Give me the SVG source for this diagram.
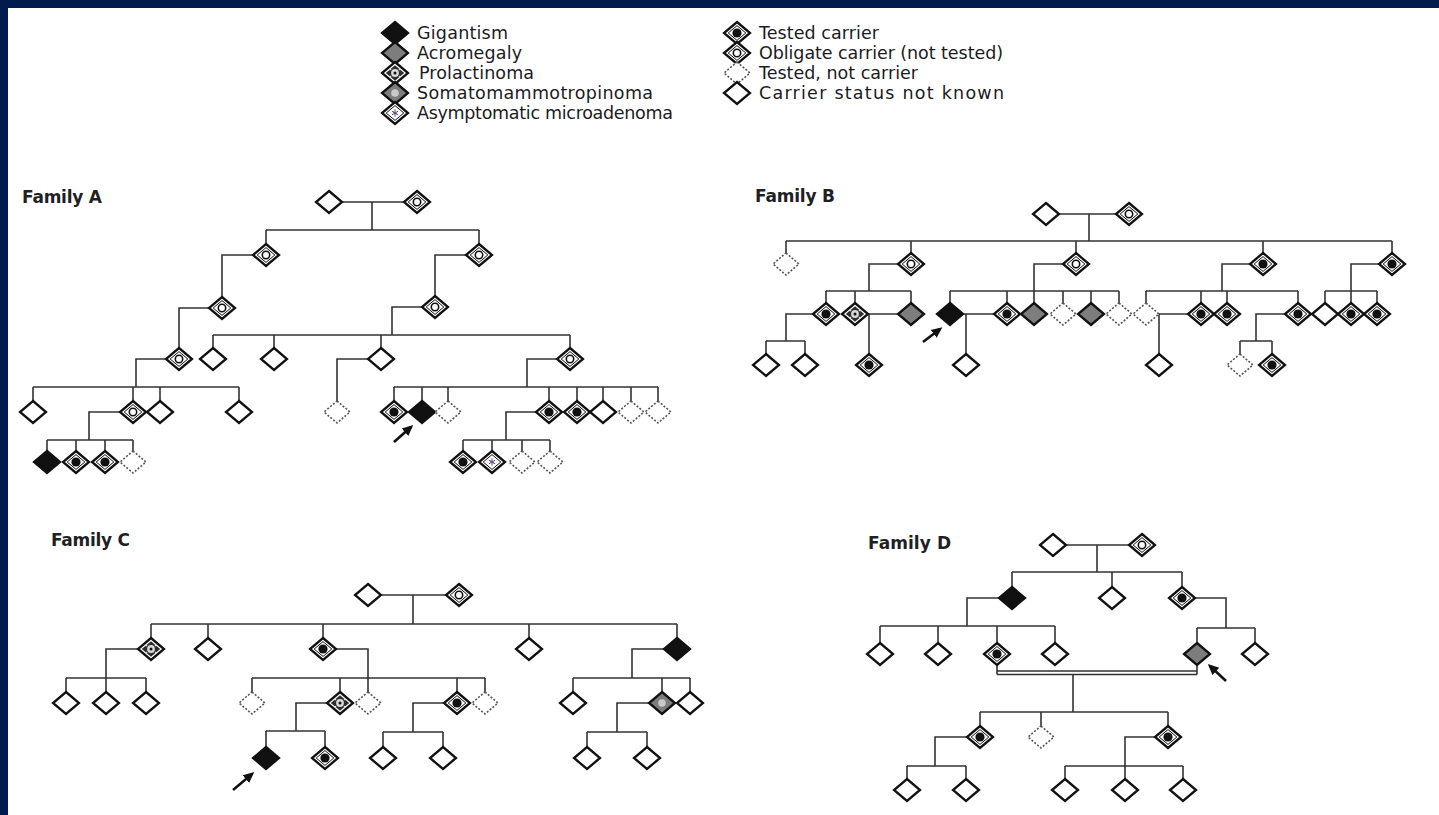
<svg xmlns="http://www.w3.org/2000/svg" width="1439" height="815" viewBox="0 0 1439 815">
<style>
.o{fill:#fff;stroke:#111;stroke-width:2.3}
.f{fill:#111;stroke:#111;stroke-width:2.3}
.g{fill:#7d7d7d;stroke:#111;stroke-width:2.3}
.in{fill:none;stroke:#111;stroke-width:1}
.nc{fill:#fff;stroke:#555;stroke-width:1.6;stroke-dasharray:2 1.7}
.ln{fill:none;stroke:#333;stroke-width:1.6}
.ar{fill:none;stroke:#111;stroke-width:2.6}
.lg{font-family:"DejaVu Sans","Liberation Sans",sans-serif;font-size:17.5px;fill:#1b1b24}
.fam{font-family:"DejaVu Sans","Liberation Sans",sans-serif;font-size:17px;font-weight:bold;fill:#1f1f26}
</style>
<defs>
<g id="unk"><path class="o" d="M0,-11L13,0L0,11L-13,0Z"/></g>
<g id="gig"><path class="f" d="M0,-11L13,0L0,11L-13,0Z"/></g>
<g id="acro"><path class="g" d="M0,-11L13,0L0,11L-13,0Z"/></g>
<g id="nc"><path class="nc" d="M0,-11L13,0L0,11L-13,0Z"/></g>
<g id="tc"><path class="o" d="M0,-11L13,0L0,11L-13,0Z"/><path class="in" d="M0,-7.4L8.8,0L0,7.4L-8.8,0Z"/><circle r="4.6" fill="#111"/></g>
<g id="oc"><path class="o" d="M0,-11L13,0L0,11L-13,0Z"/><path class="in" d="M0,-7.4L8.8,0L0,7.4L-8.8,0Z"/><circle r="3.7" fill="#fff" stroke="#111" stroke-width="1.6"/></g>
<g id="prl"><path class="o" d="M0,-11L13,0L0,11L-13,0Z"/><path d="M0,-7.8L9.2,0L0,7.8L-9.2,0Z" fill="#2e2e2e"/><circle r="3.9" fill="#d8d8d8"/><circle r="1.5" fill="#111"/><circle cx="-4.6" cy="-3.6" r="0.9" fill="#ddd"/><circle cx="4.6" cy="-3.6" r="0.9" fill="#ddd"/><circle cx="-4.6" cy="3.6" r="0.9" fill="#ddd"/><circle cx="4.6" cy="3.6" r="0.9" fill="#ddd"/></g>
<g id="som"><path class="g" d="M0,-11L13,0L0,11L-13,0Z"/><circle r="3.8" fill="#c9c9c9"/></g>
<g id="asy"><path class="o" d="M0,-11L13,0L0,11L-13,0Z"/><path class="in" d="M0,-7.4L8.8,0L0,7.4L-8.8,0Z"/><path d="M0,-3.6V3.6M-3.1,-1.8L3.1,1.8M-3.1,1.8L3.1,-1.8" stroke="#2c4fa8" stroke-width="1"/><path d="M-3.1,-1.8L3.1,1.8" stroke="#c0392b" stroke-width="0.9"/></g>
<marker id="ah" markerWidth="12" markerHeight="12" refX="8" refY="6" orient="auto" markerUnits="userSpaceOnUse"><path d="M0,1L11,6L0,11Z" fill="#111"/></marker>
</defs>
<rect width="1439" height="815" fill="#021b4f"/>
<rect x="8" y="8" width="1431" height="807" fill="#fff"/>

<g id="legend">
<g id="lg-gig"><use href="#gig" x="395" y="33"/><text class="lg" x="417" y="39" textLength="91">Gigantism</text></g>
<g id="lg-acro"><use href="#acro" x="395" y="53"/><text class="lg" x="417" y="59" textLength="105">Acromegaly</text></g>
<g id="lg-prl"><use href="#prl" x="395" y="73"/><text class="lg" x="419" y="79" textLength="115">Prolactinoma</text></g>
<g id="lg-som"><use href="#som" x="395" y="93"/><text class="lg" x="417" y="99" textLength="236">Somatomammotropinoma</text></g>
<g id="lg-asy"><use href="#asy" x="395" y="113"/><text class="lg" x="417" y="119" textLength="256">Asymptomatic microadenoma</text></g>
<g id="lg-tc"><use href="#tc" x="737" y="33"/><text class="lg" x="759" y="39" textLength="120">Tested carrier</text></g>
<g id="lg-oc"><use href="#oc" x="737" y="53"/><text class="lg" x="759" y="59" textLength="244">Obligate carrier (not tested)</text></g>
<g id="lg-nc"><use href="#nc" x="737" y="73"/><text class="lg" x="759" y="79" textLength="159">Tested, not carrier</text></g>
<g id="lg-unk"><use href="#unk" x="737" y="93"/><text class="lg" x="759" y="99" textLength="245">Carrier status not known</text></g>
</g>

<g id="labels">
<text class="fam" x="22" y="203" textLength="80">Family A</text>
<text class="fam" x="755" y="202" textLength="80">Family B</text>
<text class="fam" x="51" y="546" textLength="79">Family C</text>
<text class="fam" x="868" y="549" textLength="83">Family D</text>
</g>

<g id="connectors">
<path class="ln" d="M342,202H404M372,202V230M266,230H479M266,230V244M479,230V244M253,255H222V297M209,308H179V348M466,255H435V296M422,307H392V335M213,335H570M213,335V348M274,335V348M381,335V348M570,335V348M166,359H136V387M33,387H239M33,387V401M133,387V401M160,387V401M239,387V401M120,412H89V440M47,440H133M47,440V451M76,440V451M105,440V451M133,440V451M368,359H337V401M557,359H527V387M394,387H658M394,387V401M422,387V401M448,387V401M549,387V401M577,387V401M603,387V401M631,387V401M658,387V401M536,412H506V440M463,440H550M463,440V451M492,440V451M522,440V451M550,440V451"/>
<path class="ln" d="M1059,214H1116M1089,214V241M786,241H1392M786,241V253M911,241V253M1076,241V253M1263,241V253M1392,241V253M898,264H869V291M826,291H911M826,291V303M855,291V303M911,291V303M813,314H786V341M766,341H805M766,341V354M805,341V354M868,314H898M869,314V354M1063,264H1034V303M950,291H1119M950,291V303M1007,291V303M1063,291V303M1091,291V303M1119,291V303M963,314H994M966,314V354M1250,264H1222V291M1146,291H1298M1146,291V303M1201,291V303M1227,291V303M1298,291V303M1159,314H1188M1159,314V354M1285,314H1256V341M1240,341H1272M1240,341V354M1272,341V354M1379,264H1351V303M1325,291H1377M1325,291V303M1377,291V303"/>
<path class="ln" d="M381,595H446M413,595V624M151,624H677M151,624V638M208,624V638M323,624V638M529,624V638M677,624V638M138,649H106V692M66,678H146M66,678V692M146,678V692M336,649H368V692M252,678H485M252,678V692M340,678V692M457,678V692M485,678V692M327,703H296V731M266,731H325M266,731V747M325,731V747M444,703H413V732M383,732H443M383,732V747M443,732V747M664,649H632V678M573,678H690M573,678V692M662,678V692M690,678V692M649,703H617V732M587,732H647M587,732V747M647,732V747"/>
<path class="ln" d="M1066,545H1129M1097,545V572M1012,572H1182M1012,572V587M1112,572V587M1182,572V587M999,598H967V626M880,626H1055M880,626V643M938,626V643M997,626V643M1055,626V643M1195,598H1226V628M1197,628H1255M1197,628V643M1255,628V643M997,665V674.5M1197,665V674.5M997,671H1197M997,674.5H1197M1073,674.5V712M980,712H1168M980,712V726M1041,712V726M1168,712V726M967,737H935V766M907,766H966M907,766V779M966,766V779M1155,737H1125V779M1065,766H1183M1065,766V779M1183,766V779"/>
<path class="ar" marker-end="url(#ah)" d="M394,442L411,427"/>
<path class="ar" marker-end="url(#ah)" d="M923,342L940,329"/>
<path class="ar" marker-end="url(#ah)" d="M233,790L252,774"/>
<path class="ar" marker-end="url(#ah)" d="M1226,681L1210,666"/>
</g>

<g id="familyA">
<g id="A0a"><use href="#unk" x="329" y="202"/></g>
<g id="A0b"><use href="#oc" x="417" y="202"/></g>
<g id="A1"><use href="#oc" x="266" y="255"/></g>
<g id="A2"><use href="#oc" x="479" y="255"/></g>
<g id="A3"><use href="#oc" x="222" y="308"/></g>
<g id="A4"><use href="#oc" x="179" y="359"/></g>
<g id="A5"><use href="#oc" x="435" y="307"/></g>
<g id="A6"><use href="#unk" x="213" y="359"/></g>
<g id="A7"><use href="#unk" x="274" y="359"/></g>
<g id="A8"><use href="#unk" x="381" y="359"/></g>
<g id="A9"><use href="#oc" x="570" y="359"/></g>
<g id="A10"><use href="#unk" x="33" y="412"/></g>
<g id="A11"><use href="#oc" x="133" y="412"/></g>
<g id="A12"><use href="#unk" x="160" y="412"/></g>
<g id="A13"><use href="#unk" x="239" y="412"/></g>
<g id="A14"><use href="#gig" x="47" y="462"/></g>
<g id="A15"><use href="#tc" x="76" y="462"/></g>
<g id="A16"><use href="#tc" x="105" y="462"/></g>
<g id="A17"><use href="#nc" x="133" y="462"/></g>
<g id="A18"><use href="#nc" x="337" y="412"/></g>
<g id="A19"><use href="#tc" x="394" y="412"/></g>
<g id="A20"><use href="#gig" x="422" y="412"/></g>
<g id="A21"><use href="#nc" x="448" y="412"/></g>
<g id="A22"><use href="#tc" x="549" y="412"/></g>
<g id="A23"><use href="#tc" x="577" y="412"/></g>
<g id="A24"><use href="#unk" x="603" y="412"/></g>
<g id="A25"><use href="#nc" x="631" y="412"/></g>
<g id="A26"><use href="#nc" x="658" y="412"/></g>
<g id="A27"><use href="#tc" x="463" y="462"/></g>
<g id="A28"><use href="#asy" x="492" y="462"/></g>
<g id="A29"><use href="#nc" x="522" y="462"/></g>
<g id="A30"><use href="#nc" x="550" y="462"/></g>
</g>

<g id="familyB">
<g id="B0a"><use href="#unk" x="1046" y="214"/></g>
<g id="B0b"><use href="#oc" x="1129" y="214"/></g>
<g id="B1"><use href="#nc" x="786" y="264"/></g>
<g id="B2"><use href="#oc" x="911" y="264"/></g>
<g id="B3"><use href="#oc" x="1076" y="264"/></g>
<g id="B4"><use href="#tc" x="1263" y="264"/></g>
<g id="B5"><use href="#tc" x="1392" y="264"/></g>
<g id="B6"><use href="#tc" x="826" y="314"/></g>
<g id="B7"><use href="#prl" x="855" y="314"/></g>
<g id="B8"><use href="#acro" x="911" y="314"/></g>
<g id="B9"><use href="#unk" x="766" y="365"/></g>
<g id="B10"><use href="#unk" x="805" y="365"/></g>
<g id="B11"><use href="#tc" x="869" y="365"/></g>
<g id="B12"><use href="#gig" x="950" y="314"/></g>
<g id="B13"><use href="#tc" x="1007" y="314"/></g>
<g id="B14"><use href="#acro" x="1034" y="314"/></g>
<g id="B15"><use href="#nc" x="1063" y="314"/></g>
<g id="B16"><use href="#acro" x="1091" y="314"/></g>
<g id="B17"><use href="#nc" x="1119" y="314"/></g>
<g id="B18"><use href="#unk" x="966" y="365"/></g>
<g id="B19"><use href="#nc" x="1146" y="314"/></g>
<g id="B20"><use href="#tc" x="1201" y="314"/></g>
<g id="B21"><use href="#tc" x="1227" y="314"/></g>
<g id="B22"><use href="#tc" x="1298" y="314"/></g>
<g id="B23"><use href="#unk" x="1159" y="365"/></g>
<g id="B24"><use href="#nc" x="1240" y="365"/></g>
<g id="B25"><use href="#tc" x="1272" y="365"/></g>
<g id="B26"><use href="#unk" x="1325" y="314"/></g>
<g id="B27"><use href="#tc" x="1351" y="314"/></g>
<g id="B28"><use href="#tc" x="1377" y="314"/></g>
</g>

<g id="familyC">
<g id="C0a"><use href="#unk" x="368" y="595"/></g>
<g id="C0b"><use href="#oc" x="459" y="595"/></g>
<g id="C1"><use href="#prl" x="151" y="649"/></g>
<g id="C2"><use href="#unk" x="208" y="649"/></g>
<g id="C3"><use href="#tc" x="323" y="649"/></g>
<g id="C4"><use href="#unk" x="529" y="649"/></g>
<g id="C5"><use href="#gig" x="677" y="649"/></g>
<g id="C6"><use href="#unk" x="66" y="703"/></g>
<g id="C7"><use href="#unk" x="106" y="703"/></g>
<g id="C8"><use href="#unk" x="146" y="703"/></g>
<g id="C9"><use href="#nc" x="252" y="703"/></g>
<g id="C10"><use href="#prl" x="340" y="703"/></g>
<g id="C11"><use href="#nc" x="368" y="703"/></g>
<g id="C12"><use href="#tc" x="457" y="703"/></g>
<g id="C13"><use href="#nc" x="485" y="703"/></g>
<g id="C14"><use href="#gig" x="266" y="758"/></g>
<g id="C15"><use href="#tc" x="325" y="758"/></g>
<g id="C16"><use href="#unk" x="383" y="758"/></g>
<g id="C17"><use href="#unk" x="443" y="758"/></g>
<g id="C18"><use href="#unk" x="573" y="703"/></g>
<g id="C19"><use href="#som" x="662" y="703"/></g>
<g id="C20"><use href="#unk" x="690" y="703"/></g>
<g id="C21"><use href="#unk" x="587" y="758"/></g>
<g id="C22"><use href="#unk" x="647" y="758"/></g>
</g>

<g id="familyD">
<g id="D0a"><use href="#unk" x="1053" y="545"/></g>
<g id="D0b"><use href="#oc" x="1142" y="545"/></g>
<g id="D1"><use href="#gig" x="1012" y="598"/></g>
<g id="D2"><use href="#unk" x="1112" y="598"/></g>
<g id="D3"><use href="#tc" x="1182" y="598"/></g>
<g id="D4"><use href="#unk" x="880" y="654"/></g>
<g id="D5"><use href="#unk" x="938" y="654"/></g>
<g id="D6"><use href="#tc" x="997" y="654"/></g>
<g id="D7"><use href="#unk" x="1055" y="654"/></g>
<g id="D8"><use href="#acro" x="1197" y="654"/></g>
<g id="D9"><use href="#unk" x="1255" y="654"/></g>
<g id="D10"><use href="#tc" x="980" y="737"/></g>
<g id="D11"><use href="#nc" x="1041" y="737"/></g>
<g id="D12"><use href="#tc" x="1168" y="737"/></g>
<g id="D13"><use href="#unk" x="907" y="790"/></g>
<g id="D14"><use href="#unk" x="966" y="790"/></g>
<g id="D15"><use href="#unk" x="1065" y="790"/></g>
<g id="D16"><use href="#unk" x="1125" y="790"/></g>
<g id="D17"><use href="#unk" x="1183" y="790"/></g>
</g>
</svg>
